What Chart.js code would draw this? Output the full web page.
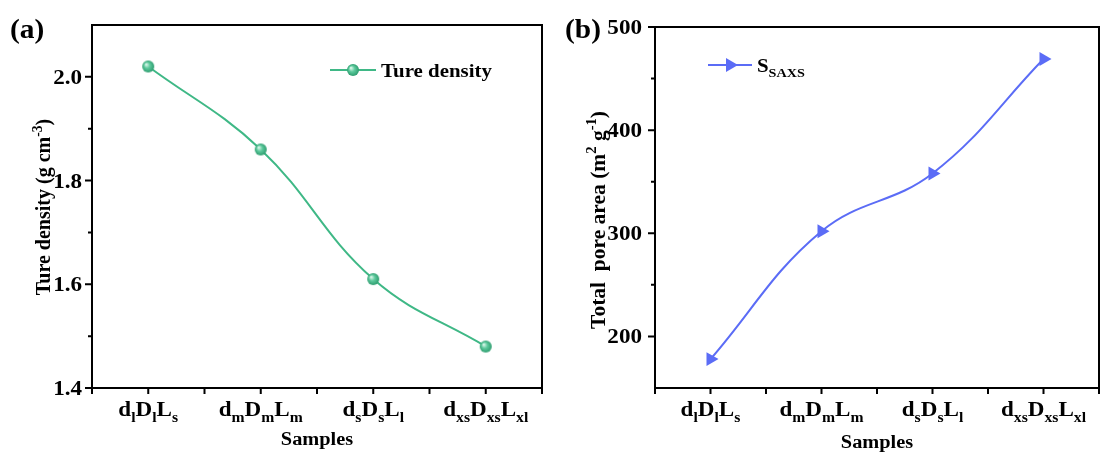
<!DOCTYPE html>
<html>
<head>
<meta charset="utf-8">
<script src="https://cdn.jsdelivr.net/npm/chart.js@4/dist/chart.umd.min.js"></script>
<style>
html, body { margin: 0; padding: 0; background: #fff; }
#wrap { position: relative; width: 1107px; height: 455px; }
.panel { position: absolute; top: 0; height: 455px; }
#pa { left: 0; width: 553px; }
#pb { left: 553px; width: 554px; }
</style>
</head>
<body>
<div id="wrap">
  <div class="panel" id="pa"><canvas id="chartA"></canvas></div>
  <div class="panel" id="pb"><canvas id="chartB"></canvas></div>
</div>
<script>
// --- data ---
const sampleNames = ['dlDlLs', 'dmDmLm', 'dsDsLl', 'dxsDxsLxl'];
// same names as rich text pieces: [text, 'sub' | 'sup' | undefined]
const sampleParts = [
  [['d'], ['l', 'sub'], ['D'], ['l', 'sub'], ['L'], ['s', 'sub']],
  [['d'], ['m', 'sub'], ['D'], ['m', 'sub'], ['L'], ['m', 'sub']],
  [['d'], ['s', 'sub'], ['D'], ['s', 'sub'], ['L'], ['l', 'sub']],
  [['d'], ['xs', 'sub'], ['D'], ['xs', 'sub'], ['L'], ['xl', 'sub']]
];
const tureDensity = [2.02, 1.86, 1.61, 1.48];
const poreArea = [178, 302, 358, 469];

const densityTicks = [1.4, 1.6, 1.8, 2.0];
const densityMinor = [1.5, 1.7, 1.9];
const areaTicks = [200, 300, 400, 500];
const areaMinor = [250, 350, 450];

const FONT = '"Liberation Serif", "Times New Roman", serif';
const green = '#3fb886';
const blue = '#5b6cf6';
const STRETCH = 1.1;   // the source text is a little wide

// shaded sphere used as the marker of panel (a)
function makeSphere(r) {
  const c = document.createElement('canvas');
  c.width = c.height = r * 2 + 2;
  const g = c.getContext('2d');
  const cx = r + 1, cy = r + 1;
  const grad = g.createRadialGradient(cx - r * 0.35, cy - r * 0.35, 0.5, cx, cy, r);
  grad.addColorStop(0, '#d8f5e8');
  grad.addColorStop(0.45, '#5cc99c');
  grad.addColorStop(1, '#2e9d6f');
  g.fillStyle = grad;
  g.beginPath();
  g.arc(cx, cy, r, 0, Math.PI * 2);
  g.fill();
  return c;
}
const sphere = makeSphere(6);

// draw text made of pieces with sub/superscripts
function richText(ctx, parts, x, y, size, align, sx) {
  sx = sx || 1;
  const small = size * 0.68;
  let w = 0;
  parts.forEach(p => {
    ctx.font = 'bold ' + (p[1] ? small : size) + 'px ' + FONT;
    w += ctx.measureText(p[0]).width;
  });
  ctx.save();
  ctx.translate(align === 'center' ? x - w * sx / 2 : align === 'right' ? x - w * sx : x, y);
  ctx.scale(sx, 1);
  ctx.textAlign = 'left';
  ctx.textBaseline = 'alphabetic';
  let cx = 0;
  parts.forEach(p => {
    ctx.font = 'bold ' + (p[1] ? small : size) + 'px ' + FONT;
    const dy = p[1] === 'sub' ? size * 0.28 : p[1] === 'sup' ? -size * 0.42 : 0;
    ctx.fillText(p[0], cx, dy);
    cx += ctx.measureText(p[0]).width;
  });
  ctx.restore();
}

// frame, ticks, labels, titles and legend
const framePlugin = {
  id: 'frame',
  afterDraw(chart, args, o) {
    const ctx = chart.ctx, a = chart.chartArea;
    const xs = chart.scales.x, ys = chart.scales.y;
    const ds = chart.data.datasets[0];
    ctx.save();
    ctx.strokeStyle = '#000';
    ctx.fillStyle = '#000';
    ctx.lineWidth = 2;
    ctx.strokeRect(a.left, a.top, a.right - a.left, a.bottom - a.top);

    ctx.beginPath();
    o.yMinor.forEach(v => {
      const p = ys.getPixelForValue(v);
      ctx.moveTo(a.left, p); ctx.lineTo(a.left - 4, p);
    });
    o.yMajor.forEach(v => {
      const p = ys.getPixelForValue(v);
      ctx.moveTo(a.left, p); ctx.lineTo(a.left - 7, p);
    });
    const n = chart.data.labels.length;
    for (let i = -0.5; i <= n - 0.5; i += 0.5) {
      const p = xs.getPixelForValue(i);
      ctx.moveTo(p, a.bottom); ctx.lineTo(p, a.bottom + 6);
    }
    ctx.stroke();

    // y tick labels
    o.yMajor.forEach(v => {
      richText(ctx, [[v.toFixed(o.decimals)]], a.left - o.tickGap, ys.getPixelForValue(v) + 7, 21, 'right', STRETCH);
    });

    // x tick labels
    sampleParts.forEach((parts, i) => {
      richText(ctx, parts, xs.getPixelForValue(i), a.bottom + 28, 21, 'center', STRETCH);
    });
    richText(ctx, [['Samples']], (a.left + a.right) / 2, a.bottom + o.xTitleDy, 18.5, 'center', STRETCH);

    // y title
    ctx.save();
    ctx.translate(o.yTitleX, o.yTitleY);
    ctx.rotate(-Math.PI / 2);
    richText(ctx, o.yTitle, 0, 0, o.yTitleSize, 'center');
    ctx.restore();

    // panel letter
    richText(ctx, [[o.letter]], o.letterX, 38, 28, 'left', 1.05);

    // legend
    const L = o.legend;
    ctx.strokeStyle = ds.borderColor;
    ctx.beginPath();
    ctx.moveTo(L.x1, L.y); ctx.lineTo(L.x2, L.y);
    ctx.stroke();
    ctx.fillStyle = ds.pointBackgroundColor || ds.borderColor;
    Chart.helpers.drawPoint(ctx, {
      pointStyle: ds.pointStyle, rotation: ds.pointRotation || 0,
      radius: ds.pointRadius, borderWidth: 0
    }, (L.x1 + L.x2) / 2, L.y);
    ctx.fillStyle = '#000';
    richText(ctx, L.parts, L.textX, L.y + 7, 19, 'left', STRETCH);
    ctx.restore();
  }
};

function baseOptions(ymin, ymax, padRight, leftWidth, extra) {
  return {
    responsive: true,
    maintainAspectRatio: false,
    animation: false,
    layout: { padding: { top: extra.top, right: padRight, left: 0, bottom: 0 } },
    plugins: { legend: { display: false }, tooltip: { enabled: false }, frame: extra },
    scales: {
      x: {
        offset: true,
        grid: { display: false }, border: { display: false },
        ticks: { display: false },
        afterFit(s) { s.height = 67; }
      },
      y: {
        min: ymin, max: ymax,
        grid: { display: false }, border: { display: false },
        ticks: { display: false },
        afterFit(s) { s.width = leftWidth; }
      }
    }
  };
}

new Chart(document.getElementById('chartA'), {
  type: 'line',
  data: {
    labels: sampleNames,
    datasets: [{
      label: 'Ture density',
      data: tureDensity,
      borderColor: green,
      pointBackgroundColor: green,
      borderWidth: 2,
      tension: 0.4,
      pointStyle: sphere,
      pointRadius: 6
    }]
  },
  options: baseOptions(1.4, 2.1, 11, 92, {
    top: 25,
    yMajor: densityTicks, yMinor: densityMinor, decimals: 1, tickGap: 10,
    xTitleDy: 57,
    yTitleX: 50, yTitleY: 207, yTitleSize: 20,
    yTitle: [['Ture density (g cm'], ['-3', 'sup'], [')']],
    letter: '(a)', letterX: 10,
    legend: { x1: 330, x2: 376, y: 70, textX: 381, parts: [['Ture density']] }
  }),
  plugins: [framePlugin]
});

new Chart(document.getElementById('chartB'), {
  type: 'line',
  data: {
    labels: sampleNames,
    datasets: [{
      label: 'SSAXS',
      data: poreArea,
      borderColor: blue,
      pointBackgroundColor: blue,
      borderWidth: 2,
      tension: 0.4,
      pointStyle: 'triangle',
      pointRotation: 90,
      pointRadius: 8,
      pointBorderWidth: 0
    }]
  },
  options: baseOptions(150, 500, 4, 102, {
    top: 27,
    yMajor: areaTicks, yMinor: areaMinor, decimals: 0, tickGap: 13,
    xTitleDy: 60,
    yTitleX: 52, yTitleY: 220, yTitleSize: 21.5,
    yTitle: [['Total  pore area (m'], ['2', 'sup'], [' g'], ['-1', 'sup'], [')']],
    letter: '(b)', letterX: 12,
    legend: { x1: 155, x2: 199, y: 65, textX: 204, parts: [['S'], ['SAXS', 'sub']] }
  }),
  plugins: [framePlugin]
});
</script>
</body>
</html>
